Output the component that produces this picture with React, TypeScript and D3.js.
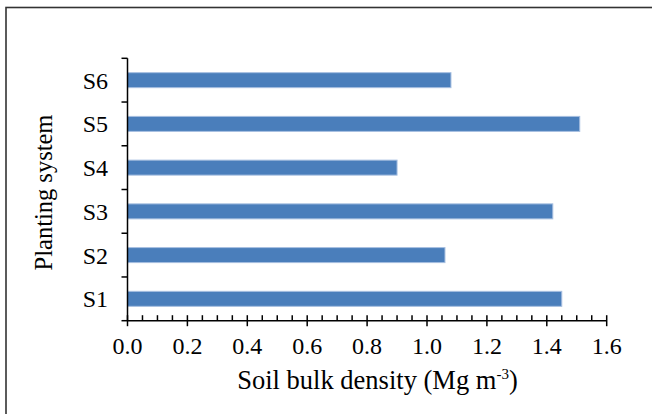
import React from "react";
import * as d3 from "d3";

const categories = ["S1", "S2", "S3", "S4", "S5", "S6"];
const values = [1.45, 1.06, 1.42, 0.9, 1.51, 1.08];
const xTicks = [0, 0.2, 0.4, 0.6, 0.8, 1.0, 1.2, 1.4, 1.6];
const xTitle = "Soil bulk density (Mg m";
const yTitle = "Planting system";

const W = 652;
const H = 414;
const FONT = "'Liberation Serif', 'Times New Roman', serif";

export default function App() {
  const left = 127.5;
  const right = 606.7;
  const top = 58.3;
  const bottom = 320.7;

  const x = d3.scaleLinear().domain([0, 1.6]).range([left, right]);
  const order = [...categories].reverse();
  const y = d3
    .scaleBand<string>()
    .domain(order)
    .range([top, bottom])
    .paddingInner(0.657)
    .paddingOuter(0.657 / 2);
  const step = y.step();
  const minor = d3.range(0, 1.6001, 0.05).filter((v) => Math.abs(Math.round(v / 0.2) * 0.2 - v) > 1e-6);

  return (
    <svg
      width={W}
      height={H}
      style={{ position: "absolute", left: 0, top: 0, background: "#fff" }}
    >
      <rect x={6} y={7.5} width={700} height={500} fill="#fff" stroke="#333" strokeWidth={1.6} />
      {categories.map((c, i) => (
        <rect
          key={c}
          x={x(0)}
          y={y(c)}
          width={x(values[i]) - x(0)}
          height={y.bandwidth()}
          fill="#4a7ebb"
          stroke="#a7bfe0"
          strokeWidth={1}
        />
      ))}
      {/* y axis */}
      <line x1={left} x2={left} y1={top} y2={bottom} stroke="#000" strokeWidth={1.5} />
      {d3.range(0, 7).map((i) => (
        <line key={i} x1={left - 6} x2={left} y1={top + i * step} y2={top + i * step} stroke="#000" strokeWidth={1.5} />
      ))}
      {categories.map((c) => (
        <text
          key={c}
          x={108}
          y={(y(c) as number) + y.bandwidth() / 2}
          dy="0.35em"
          textAnchor="end"
          fontFamily={FONT}
          fontSize={24}
          fill="#000"
        >
          {c}
        </text>
      ))}
      {/* x axis */}
      <line x1={left} x2={right} y1={bottom} y2={bottom} stroke="#000" strokeWidth={1.5} />
      {xTicks.map((t) => (
        <line key={t} x1={x(t)} x2={x(t)} y1={bottom - 5.5} y2={bottom + 5.5} stroke="#000" strokeWidth={1.5} />
      ))}
      {minor.map((t) => (
        <line key={"m" + t} x1={x(t)} x2={x(t)} y1={bottom - 5.5} y2={bottom} stroke="#000" strokeWidth={1.5} />
      ))}
      {xTicks.map((t) => (
        <text key={"l" + t} x={x(t)} y={354} textAnchor="middle" fontFamily={FONT} fontSize={24} fill="#000">
          {d3.format(".1f")(t)}
        </text>
      ))}
      <text x={377.5} y={389} textAnchor="middle" fontFamily={FONT} fontSize={26.5} fill="#000">
        {xTitle}
        <tspan dy={-10} fontSize={15}>-3</tspan>
        <tspan dy={10}>)</tspan>
      </text>
      <text
        transform={`translate(52,192.5) rotate(-90)`}
        textAnchor="middle"
        fontFamily={FONT}
        fontSize={24.5}
        fill="#000"
      >
        {yTitle}
      </text>
    </svg>
  );
}
